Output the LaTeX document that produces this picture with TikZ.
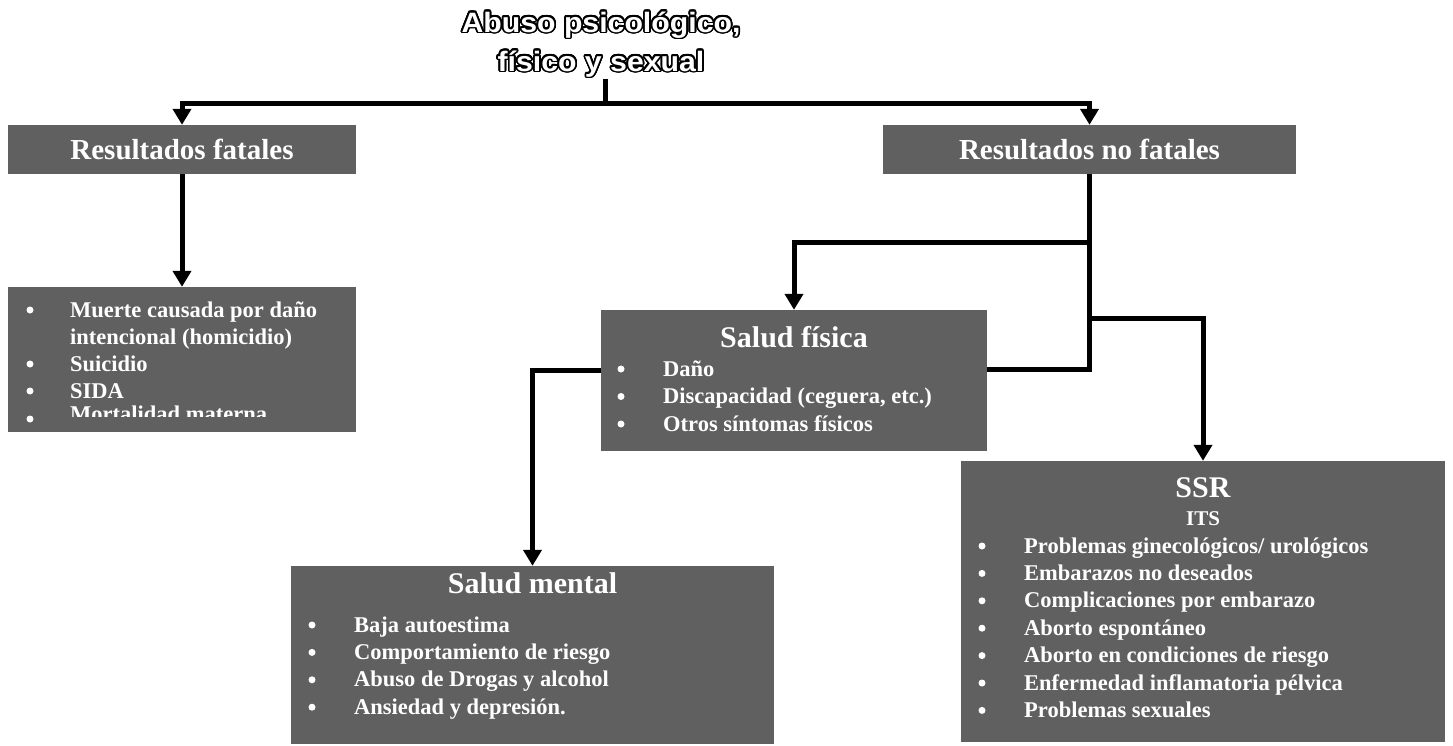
\documentclass[tikz,border=0pt]{standalone}
\usepackage{fontspec}
\setmainfont{Liberation Serif}
\newfontfamily\titlefont{Liberation Sans}[FakeStretch=1.08]
\usepackage[copies]{contour}
\contourlength{1.7pt}
\contournumber{24}
\usetikzlibrary{arrows.meta}
\definecolor{boxgray}{RGB}{96,96,96}
\tikzset{
  box/.style={fill=boxgray, draw=none, inner sep=0pt, text=white, font=\bfseries\fontsize{29}{33}\selectfont},
  head/.style={anchor=base, text=white, inner sep=0pt, font=\bfseries\fontsize{30}{34}\selectfont},
  item/.style={anchor=base west, text=white, inner sep=0pt, font=\bfseries\fontsize{22.5}{27}\selectfont},
  bul/.style={circle, fill=white, draw=none, inner sep=0pt, minimum size=7pt},
  conn/.style={line width=5pt, -{Triangle[length=16pt,width=18pt]}},
  link/.style={line width=5pt},
}
\begin{document}
\begin{tikzpicture}[x=1pt,y=-1pt]
\useasboundingbox (0,0) rectangle (1453,745);
% title
\node[inner sep=0pt, align=center, font=\titlefont\bfseries\fontsize{28}{39}\selectfont, text=white] (title) at (601,45)
  {\contour{black}{Abuso psicológico,}\\ \contour{black}{físico y sexual}};
\coordinate (j0) at (605,103);
% boxes
\node[box, minimum width=348pt, minimum height=49pt] (rf) at (182,149.5) {Resultados fatales};
\node[box, minimum width=413pt, minimum height=49pt] (nf) at (1089.5,149.5) {Resultados no fatales};
\node[box, minimum width=348pt, minimum height=145pt] (rl) at (182,359.5) {};
\node[box, minimum width=386pt, minimum height=141pt] (fis) at (794,380.5) {};
\node[box, minimum width=483pt, minimum height=178pt] (sm) at (532.5,655) {};
\node[box, minimum width=484pt, minimum height=281pt] (ssr) at (1203,601.5) {};
% fatal list
\begin{scope}
\clip (8,287) rectangle (356,416);
\foreach \t/\y [count=\i] in {{Muerte causada por daño}/317,{intencional (homicidio)}/344,{Suicidio}/371,{SIDA}/398,{Mortalidad materna}/421}{
  \node[item] (rlt\i) at (70,\y) {\t};
}
\end{scope}
\foreach \y [count=\i] in {317,371,398,426}{
  \node[bul] (rlb\i) at (30,\y-7) {};
}
% salud fisica
\node[head] (fish) at (794,347) {Salud física};
\foreach \t [count=\i] in {{Daño},{Discapacidad (ceguera, etc.)},{Otros síntomas físicos}}{
  \node[item] (fist\i) at (663,{376+27.5*(\i-1)}) {\t};
  \node[bul] (fisb\i) at (621,{369+27.5*(\i-1)}) {};
}
% salud mental
\node[head] (smh) at (532.5,593) {Salud mental};
\foreach \t [count=\i] in {{Baja autoestima},{Comportamiento de riesgo},{Abuso de Drogas y alcohol},{Ansiedad y depresión.}}{
  \node[item] (smt\i) at (354,{632+27.4*(\i-1)}) {\t};
  \node[bul] (smb\i) at (312,{625+27.4*(\i-1)}) {};
}
% SSR
\node[head] (ssrh) at (1203,497) {SSR};
\node[anchor=base, text=white, inner sep=0pt, font=\bfseries\fontsize{21}{25}\selectfont] (its) at (1203,525) {ITS};
\foreach \t [count=\i] in {{Problemas ginecológicos/ urológicos},{Embarazos no deseados},{Complicaciones por embarazo},{Aborto espontáneo},{Aborto en condiciones de riesgo},{Enfermedad inflamatoria pélvica},{Problemas sexuales}}{
  \node[item] (ssrt\i) at (1024,{553+27.4*(\i-1)}) {\t};
  \node[bul] (ssrb\i) at (982,{546+27.4*(\i-1)}) {};
}
% connectors
\draw[link] (title.south -| j0) -- (j0);
\draw[conn] (j0) -| (rf.north);
\draw[conn] (j0) -| (nf.north);
\draw[conn] (rf.south) -- (rl.north);
\draw[conn] (nf.south) -- ++(0,68) -| (fis.north);
\draw[conn] (nf.south) -- ++(0,144) -| (ssr.north);
\draw[link] ([yshift=11.5pt]fis.east) -| (nf.south);
\draw[conn] ([yshift=10.5pt]fis.west) -| (sm.north);
\end{tikzpicture}
\end{document}
